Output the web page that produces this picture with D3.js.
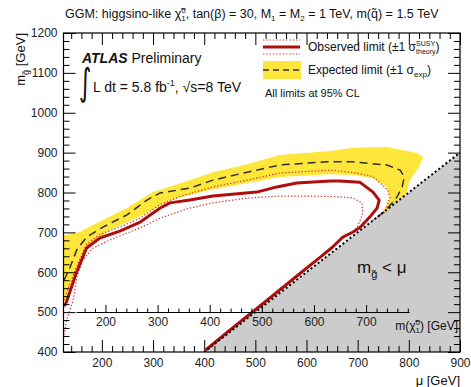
<!DOCTYPE html>
<html>
<head>
<meta charset="utf-8">
<script src="https://cdn.jsdelivr.net/npm/d3@7"></script>
<style>
  html, body { margin: 0; padding: 0; background: #fff; }
  svg { display: block; font-family: "Liberation Sans", Arial, Helvetica, sans-serif; }
</style>
</head>
<body>
<svg id="chart" width="471" height="387"></svg>
<script>
// axis ranges / ticks
const muDomain = [125, 900];
const mgDomain = [400, 1200];
const muMajor = [200, 300, 400, 500, 600, 700, 800, 900];
const mgMajor = [400, 500, 600, 700, 800, 900, 1000, 1100, 1200];
const chiDomain = [144, 782];
const chiMajor = [200, 300, 400, 500, 600, 700];

// [mu, m_gluino]
const observed = [[126,515],[130,523],[150,598],[170,661],[196,686],[235,703],[275,726],[314,761],[333,774],[372,781],[417,791],[503,801],[542,814],[581,824],[646,829],[665,829],[704,826],[730,801],[742,781],[738,761],[724,739],[705,713],[691,701],[671,688],[650,662],[627,638],[600,610],[550,558],[500,506],[450,455],[403,405]];
const observedUp = [[126,530],[135,562],[150,612],[170,670],[196,695],[235,713],[275,736],[314,770],[353,790],[417,814],[484,831],[548,849],[646,856],[691,850],[730,840],[759,806],[763,786],[753,751],[740,738],[733,735]];
const observedDown = [[126,443],[131,480],[144,530],[151,588],[163,631],[183,661],[216,681],[249,698],[288,719],[314,736],[372,761],[417,774],[484,786],[548,791],[613,791],[665,789],[691,786],[708,774],[710,749],[705,731],[699,713],[691,701],[680,692]];
const expected = [[126,580],[138,613],[151,656],[170,688],[202,713],[249,744],[288,781],[314,799],[372,811],[417,831],[484,851],[548,869],[640,877],[691,877],[757,869],[783,856],[791,839],[787,814],[777,789],[757,758],[740,740],[730,731]];
const bandUp = [[125,692],[157,701],[183,719],[249,761],[300,801],[372,831],[417,851],[484,871],[548,894],[646,904],[691,912],[757,914],[816,899],[828,889],[822,869],[802,831],[793,789],[769,758],[750,750]];
const bandDown = [[125,520],[144,590],[171,663],[216,706],[281,744],[333,781],[411,806],[484,824],[548,839],[646,846],[691,844],[730,836],[757,814],[763,786],[749,751]];

const L = 63.5, R = 460, T = 33, B = 352;
const RED = "#b00d0d", YEL = "#ffe63a", DASH = "#2e2e2e", GRAY = "#cccccc";

const svg = d3.select("#chart");
const x = d3.scaleLinear().domain(muDomain).range([L, R]);
const y = d3.scaleLinear().domain(mgDomain).range([B, T]);
const line = d3.line().x(d => x(d[0])).y(d => y(d[1]));

svg.append("defs").append("clipPath").attr("id", "plot")
  .append("rect").attr("x", L).attr("y", T).attr("width", R - L).attr("height", B - T);

const plot = svg.append("g").attr("clip-path", "url(#plot)");

// expected +-1 sigma band
plot.append("path")
  .attr("d", line(bandUp.concat(bandDown.slice().reverse())) + "Z")
  .attr("fill", YEL);

// kinematically forbidden region
const forbidden = [[400, 400], [900, 900], [900, 400]];
plot.append("path").attr("d", line(forbidden) + "Z").attr("fill", GRAY);

// limit curves
plot.append("path").attr("d", line(expected)).attr("fill", "none")
  .attr("stroke", DASH).attr("stroke-width", 1.5).attr("stroke-dasharray", "8,5");
[observedUp, observedDown].forEach(c => {
  plot.append("path").attr("d", line(c)).attr("fill", "none")
    .attr("stroke", "#d42a2a").attr("stroke-width", 1.2).attr("stroke-dasharray", "1.3,2");
});
plot.append("path").attr("d", line(observed)).attr("fill", "none")
  .attr("stroke", RED).attr("stroke-width", 3).attr("stroke-linejoin", "round");

// m_gluino = mu boundary on top of the curves
plot.append("path").attr("d", line([[400, 400], [900, 900]]))
  .attr("stroke", "#000").attr("stroke-width", 2).attr("stroke-dasharray", "2,2.5").attr("fill", "none");

// axes with inward ticks, minors every 20 GeV
const muMinor = d3.range(140, 901, 20).filter(v => v % 100 !== 0);
const mgMinor = d3.range(400, 1201, 20).filter(v => v % 100 !== 0);
function ax(gen, scale, major, minor, tf, labels) {
  const g = svg.append("g").attr("transform", tf);
  g.call(gen(scale).tickValues(minor).tickSize(-6).tickSizeOuter(0).tickFormat(""));
  const m = svg.append("g").attr("transform", tf);
  m.call(gen(scale).tickValues(major).tickSize(-12).tickSizeOuter(0).tickPadding(6)
    .tickFormat(labels ? d3.format("d") : ""));
  [g, m].forEach(s => {
    s.select(".domain").remove();
    s.selectAll("line").attr("stroke", "#000");
    s.selectAll("text").attr("font-size", 12).attr("fill", "#222").style("font-family", "inherit");
  });
  return m;
}
ax(d3.axisBottom, x, muMajor, muMinor, `translate(0,${B})`, true);
ax(d3.axisTop, x, muMajor, muMinor, `translate(0,${T})`, false);
ax(d3.axisLeft, y, mgMajor, mgMinor, `translate(${L},0)`, true);
ax(d3.axisRight, y, mgMajor, mgMinor, `translate(${R},0)`, false);

svg.append("rect").attr("x", L).attr("y", T).attr("width", R - L).attr("height", B - T)
  .attr("fill", "none").attr("stroke", "#000").attr("stroke-width", 1.2);

// neutralino mass axis drawn inside the frame
const chi = d3.scaleLinear().domain(chiDomain).range([x(150), x(800)]);
const chiY = 312;
const ci = svg.append("g").attr("transform", `translate(0,${chiY})`);
ci.call(d3.axisBottom(chi).tickValues(d3.range(160, 781, 20).filter(v => v % 100 !== 0))
  .tickSize(-3.5).tickSizeOuter(0).tickFormat(""));
const cm = svg.append("g").attr("transform", `translate(0,${chiY})`);
cm.call(d3.axisBottom(chi).tickValues(chiMajor).tickSize(-7).tickSizeOuter(0).tickPadding(5).tickFormat(d3.format("d")));
[ci, cm].forEach(s => {
  s.selectAll("line,path").attr("stroke", "#000");
  s.selectAll("text").attr("font-size", 12).attr("fill", "#222").style("font-family", "inherit");
});

// rich text with sub/superscripts
function rich(t, parts) {
  let cur = 0;
  parts.forEach(p => {
    const o = typeof p === "string" ? { t: p } : p;
    const shift = o.sup ? -o.sup : (o.sub ? o.sub : 0);
    const ts = t.append("tspan").text(o.t).attr("dy", shift - cur);
    cur = shift;
    if (o.fs) ts.attr("font-size", o.fs);
    if (o.dx) ts.attr("dx", o.dx);
    if (o.fw) ts.attr("font-weight", o.fw);
    if (o.it) ts.attr("font-style", "italic");
  });
  return t;
}
function txt(xp, yp, fs, anchor) {
  return svg.append("text").attr("x", xp).attr("y", yp).attr("font-size", fs)
    .attr("fill", "#111").attr("text-anchor", anchor || "start");
}

rich(txt(65, 18, 12.5), ["GGM: higgsino-like χ̃", { t: "0", sup: 5, fs: 8 }, { t: "1", sub: 3, fs: 8, dx: -4.5 },
  ", tan(β) = 30, M", { t: "1", sub: 3, fs: 8 }, " = M", { t: "2", sub: 3, fs: 8 }, " = 1 TeV, m(q̃) = 1.5 TeV"]);

svg.append("text").attr("transform", "translate(25,33) rotate(-90)").attr("text-anchor", "end")
  .attr("font-size", 13).attr("fill", "#111")
  .call(t => rich(t, ["m", { t: "g̃", sub: 4, fs: 9 }, " [GeV]"]));
txt(460, 385, 13, "end").text("μ [GeV]");

rich(txt(82, 63, 14), [{ t: "ATLAS", fw: "bold", it: true }, " Preliminary"]);
svg.append("text").attr("transform", "translate(79,95) scale(1,1.55)").attr("font-size", 24)
  .attr("font-family", "DejaVu Sans").attr("fill", "#111").text("∫");
rich(txt(93, 92, 14), ["L dt = 5.8 fb", { t: "-1", sup: 6, fs: 9 }, ", √s=8 TeV"]);

// legend
const lg = svg.append("g");
lg.append("line").attr("x1", 263).attr("x2", 300).attr("y1", 47).attr("y2", 47).attr("stroke", RED).attr("stroke-width", 3);
[40, 54].forEach(v => lg.append("line").attr("x1", 263).attr("x2", 300).attr("y1", v).attr("y2", v)
  .attr("stroke", "#d42a2a").attr("stroke-width", 1.2).attr("stroke-dasharray", "1.3,2"));
lg.append("rect").attr("x", 263).attr("y", 61).attr("width", 38).attr("height", 18).attr("fill", YEL);
lg.append("line").attr("x1", 263).attr("x2", 300).attr("y1", 70).attr("y2", 70).attr("stroke", DASH)
  .attr("stroke-width", 1.5).attr("stroke-dasharray", "6,4");
rich(txt(308, 51, 12), ["Observed limit (±1 σ", { t: "SUSY", sup: 5, fs: 7 }, { t: "theory", sub: 3, fs: 7, dx: -19 }, ")"]);
rich(txt(308, 74, 12), ["Expected limit (±1 σ", { t: "exp", sub: 3, fs: 8 }, ")"]);
txt(265, 97, 11).text("All limits at 95% CL");

rich(txt(357, 273, 17), ["m", { t: "g̃", sub: 5, fs: 11 }, " < μ"]);
rich(txt(458, 330, 12, "end"), ["m(χ̃", { t: "0", sup: 5, fs: 8 }, { t: "1", sub: 3, fs: 8, dx: -4.5 }, ") [GeV]"]);
</script>
</body>
</html>
